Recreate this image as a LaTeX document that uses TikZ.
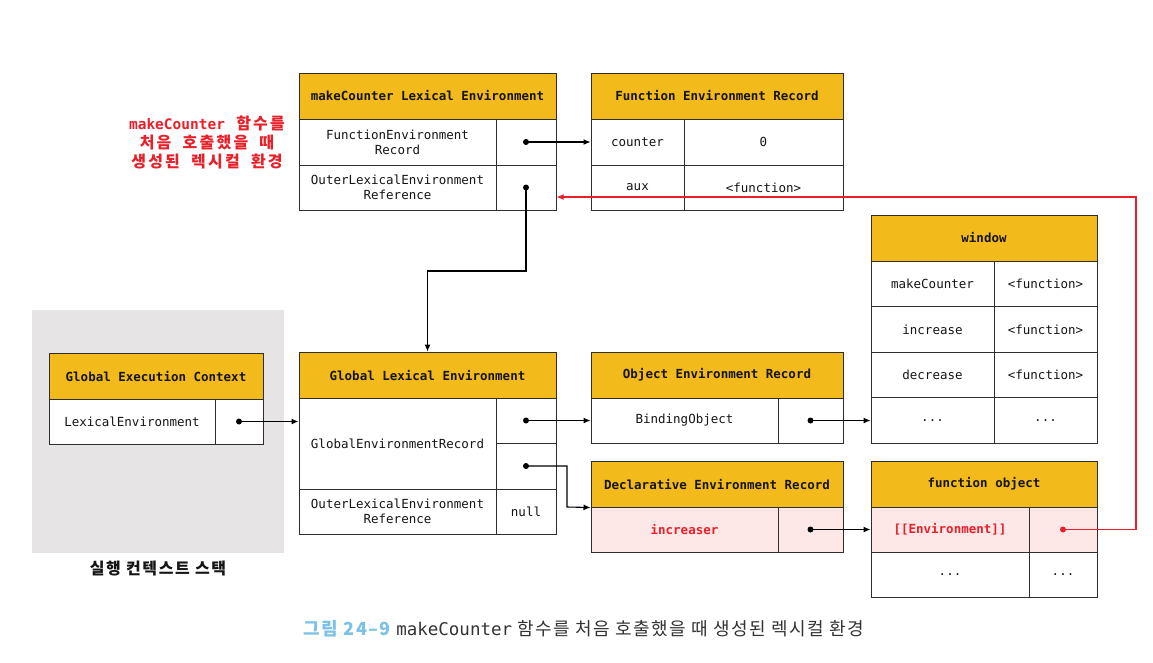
\documentclass[tikz,border=0pt]{standalone}
\usepackage{fontspec}
\setmainfont{DejaVu Sans Mono}
\setmonofont{DejaVu Sans Mono}
\newfontfamily\kr{Noto Sans CJK KR}
\newfontfamily\krnote{Noto Sans CJK KR}[LetterSpace=14,WordSpace=1.9]
\usetikzlibrary{arrows.meta,calc}
\definecolor{hdr}{HTML}{F3BA1B}
\definecolor{pinkrow}{HTML}{FDE7E7}
\definecolor{redc}{HTML}{E8202A}
\definecolor{stackbg}{HTML}{E6E4E5}
\definecolor{capblue}{HTML}{7CC1E6}
\definecolor{edge}{HTML}{2E2E2E}
\definecolor{txt}{HTML}{151515}
\tikzset{
  cell/.style={draw=edge, line width=1pt, fill=white, inner sep=0pt, align=center, text=txt,
    font=\ttfamily\fontsize{12.5}{15}\selectfont},
  hcell/.style={cell, fill=hdr, font=\ttfamily\bfseries\fontsize{12.5}{15}\selectfont},
  pcell/.style={cell, fill=pinkrow},
  conn/.style={line width=1.1pt, draw=black, -{Latex[length=7pt,width=6pt]}},
  rconn/.style={conn, draw=redc, -{Latex[length=7pt,width=6pt,color=redc]}},
  dotc/.style={fill=black},
}
\begin{document}
\begin{tikzpicture}[x=1pt,y=-1pt]
\useasboundingbox (0,0) rectangle (1153,662);
\fill[white] (0,0) rectangle (1153,662);
% stack background
\fill[stackbg] (32,310) rectangle (284,553);
\node[font=\kr\bfseries\fontsize{16}{18}\selectfont\addfontfeatures{LetterSpace=10}, text=txt] (stacklbl) at (158,569) {실행 컨텍스트 스택};

% red annotation
\node[align=center, text=redc, font=\krnote\bfseries\fontsize{16}{19}\selectfont] (note) at (207,142.5)
  {{\ttfamily\bfseries\fontsize{14.5}{19}\selectfont makeCounter} 함수를\\처음 호출했을 때\\생성된 렉시컬 환경};

% makeCounter Lexical Environment
\node[hcell, minimum width=257, minimum height=46] (mcH) at (427.5,96) {makeCounter Lexical Environment};
\node[cell, minimum width=197, minimum height=46] (mcR1L) at (397.5,142) {FunctionEnvironment\\Record};
\node[cell, minimum width=60, minimum height=46] (mcR1R) at (526,142) {};
\node[cell, minimum width=197, minimum height=45] (mcR2L) at (397.5,187.5) {OuterLexicalEnvironment\\Reference};
\node[cell, minimum width=60, minimum height=45] (mcR2R) at (526,187.5) {};

% Function Environment Record
\node[hcell, minimum width=252, minimum height=46] (ferH) at (717,96) {Function Environment Record};
\node[cell, minimum width=93, minimum height=46] (ferR1L) at (637.5,142) {counter};
\node[cell, minimum width=159, minimum height=46] (ferR1R) at (763.5,142) {0};
\node[cell, minimum width=93, minimum height=45] (ferR2L) at (637.5,187.5) {aux};
\node[cell, minimum width=159, minimum height=45] (ferR2R) at (763.5,187.5) {<function>};

% window
\node[hcell, minimum width=226, minimum height=46] (winH) at (984,238) {window};
\node[cell, minimum width=123, minimum height=46] (winL1) at (932.5,284) {makeCounter};
\node[cell, minimum width=103, minimum height=46] (winR1) at (1045.5,284) {<function>};
\node[cell, minimum width=123, minimum height=45.5] (winL2) at (932.5,329.5) {increase};
\node[cell, minimum width=103, minimum height=45.5] (winR2) at (1045.5,329.5) {<function>};
\node[cell, minimum width=123, minimum height=45.5] (winL3) at (932.5,375) {decrease};
\node[cell, minimum width=103, minimum height=45.5] (winR3) at (1045.5,375) {<function>};
\node[cell, minimum width=123, minimum height=45.5] (winL4) at (932.5,420.5) {...};
\node[cell, minimum width=103, minimum height=45.5] (winR4) at (1045.5,420.5) {...};

% Global Execution Context
\node[hcell, minimum width=214, minimum height=46] (gecH) at (156,376) {Global Execution Context};
\node[cell, minimum width=166, minimum height=45] (gecL) at (132,421.5) {LexicalEnvironment};
\node[cell, minimum width=48, minimum height=45] (gecR) at (239,421.5) {};

% Global Lexical Environment
\node[hcell, minimum width=257, minimum height=46] (gleH) at (427.5,375) {Global Lexical Environment};
\node[cell, minimum width=197, minimum height=91] (gleL1) at (397.5,443.5) {GlobalEnvironmentRecord};
\node[cell, minimum width=60, minimum height=45] (gleR1a) at (526,420.5) {};
\node[cell, minimum width=60, minimum height=46] (gleR1b) at (526,466) {};
\node[cell, minimum width=197, minimum height=45] (gleL2) at (397.5,511.5) {OuterLexicalEnvironment\\Reference};
\node[cell, minimum width=60, minimum height=45] (gleR2) at (526,511.5) {null};

% Object Environment Record
\node[hcell, minimum width=252, minimum height=46] (oerH) at (717,375) {Object Environment Record};
\node[cell, minimum width=187, minimum height=45] (oerL) at (684.5,420.5) {BindingObject};
\node[cell, minimum width=65, minimum height=45] (oerR) at (810.5,420.5) {};

% Declarative Environment Record
\node[hcell, minimum width=252, minimum height=46] (derH) at (717,484) {Declarative Environment Record};
\node[pcell, minimum width=187, minimum height=45, text=redc, font=\ttfamily\bfseries\fontsize{12.5}{15}\selectfont] (derL) at (684.5,529.5) {increaser};
\node[pcell, minimum width=65, minimum height=45] (derR) at (810.5,529.5) {};

% function object
\node[hcell, minimum width=226, minimum height=46] (foH) at (984,484) {function object};
\node[pcell, minimum width=158, minimum height=45, text=redc, font=\ttfamily\bfseries\fontsize{12.5}{15}\selectfont] (foL1) at (950,529.5) {[[Environment]]};
\node[pcell, minimum width=68, minimum height=45] (foR1) at (1063,529.5) {};
\node[cell, minimum width=158, minimum height=45] (foL2) at (950,574.5) {...};
\node[cell, minimum width=68, minimum height=45] (foR2) at (1063,574.5) {...};

% connectors
\coordinate (bend1) at (526,271);
\coordinate (bend2) at (567,507);
\coordinate (bend3) at (1136,197);

\draw[conn] (mcR1R.center) -- (ferR1L.west);
\fill[dotc] (mcR1R.center) circle (3pt);

\draw[conn] (mcR2R.center) -- (bend1) -| (gleH.north);
\fill[dotc] (mcR2R.center) circle (3pt);

\draw[conn] (gecR.center) -- (gecR.center -| gleL1.west);
\fill[dotc] (gecR.center) circle (3pt);

\draw[conn] (gleR1a.center) -- (oerL.west);
\fill[dotc] (gleR1a.center) circle (3pt);

\draw[conn] (gleR1b.center) -| (bend2) -- (derH.south west);
\fill[dotc] (gleR1b.center) circle (3pt);

\draw[conn] (oerR.center) -- (winL4.west);
\fill[dotc] (oerR.center) circle (3pt);

\draw[conn] (derR.center) -- (foL1.west);
\fill[dotc] (derR.center) circle (3pt);

\draw[rconn] (foR1.center) -| (bend3) -- (mcR2R.east |- bend3);
\fill[redc] (foR1.center) circle (3pt);

% caption
\node[font=\kr\fontsize{18}{21}\selectfont\addfontfeatures{LetterSpace=8}, text=black!80] (caption) at (584,629)
  {{\bfseries\color{capblue}그림 24–9} {\ttfamily\fontsize{17.5}{21}\selectfont makeCounter} 함수를 처음 호출했을 때 생성된 렉시컬 환경};
\end{tikzpicture}
\end{document}
